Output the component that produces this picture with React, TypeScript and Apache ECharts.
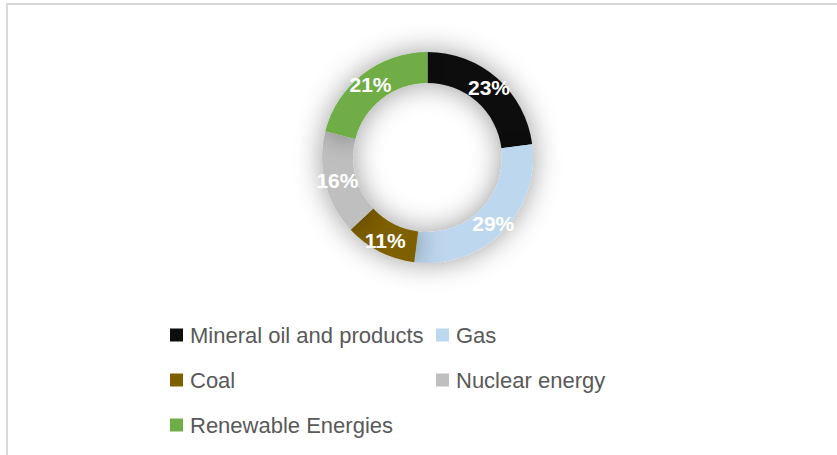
import React, { useEffect, useRef } from "react";
import * as echarts from "echarts";

const categories = [
  "Mineral oil and products",
  "Gas",
  "Coal",
  "Nuclear energy",
  "Renewable Energies",
];
const shares = [23, 29, 11, 16, 21];
const colors = ["#0d0d0d", "#bdd7ee", "#7f6000", "#bfbfbf", "#70ad47"];
const legendLeftColumn = ["Mineral oil and products", "Coal", "Renewable Energies"];
const legendRightColumn = ["Gas", "Nuclear energy"];

export default function App() {
  const ref = useRef<HTMLDivElement>(null);
  useEffect(() => {
    if (!ref.current) return;
    const chart = echarts.init(ref.current, undefined, { renderer: "svg" });
    const legendCommon = {
      orient: "vertical" as const,
      top: 324,
      padding: 0,
      itemGap: 23,
      itemWidth: 13,
      itemHeight: 13,
      icon: "rect",
      selectedMode: false,
      textStyle: {
        fontFamily: "Liberation Sans",
        fontSize: 22,
        color: "#595959",
        lineHeight: 22,
        padding: [0, 0, 0, 2],
      },
    };
    chart.setOption({
      animation: false,
      backgroundColor: "#ffffff",
      color: colors,
      graphic: [
        {
          type: "rect",
          shape: { x: 7, y: 4, width: 900, height: 600 },
          style: { fill: "none", stroke: "#d9d9d9", lineWidth: 2 },
          silent: true,
        },
      ],
      legend: [
        { ...legendCommon, left: 170, data: legendLeftColumn },
        { ...legendCommon, left: 436, data: legendRightColumn },
      ],
      series: [
        {
          type: "pie",
          center: [427.5, 157.5],
          radius: [74.5, 105.5],
          startAngle: 90,
          clockwise: true,
          avoidLabelOverlap: false,
          itemStyle: {
            shadowBlur: 28,
            shadowColor: "rgba(0,0,0,0.4)",
          },
          label: {
            show: true,
            position: "inside",
            formatter: "{c}%",
            color: "#ffffff",
            fontFamily: "Liberation Sans",
            fontWeight: "bold",
            fontSize: 21,
          },
          labelLine: { show: false },
          emphasis: { disabled: true },
          data: categories.map((name, i) => ({ name, value: shares[i] })),
        },
      ],
    });
    return () => chart.dispose();
  }, []);
  return (
    <div
      ref={ref}
      style={{ position: "fixed", left: 0, top: 0, width: 837, height: 455 }}
    />
  );
}
